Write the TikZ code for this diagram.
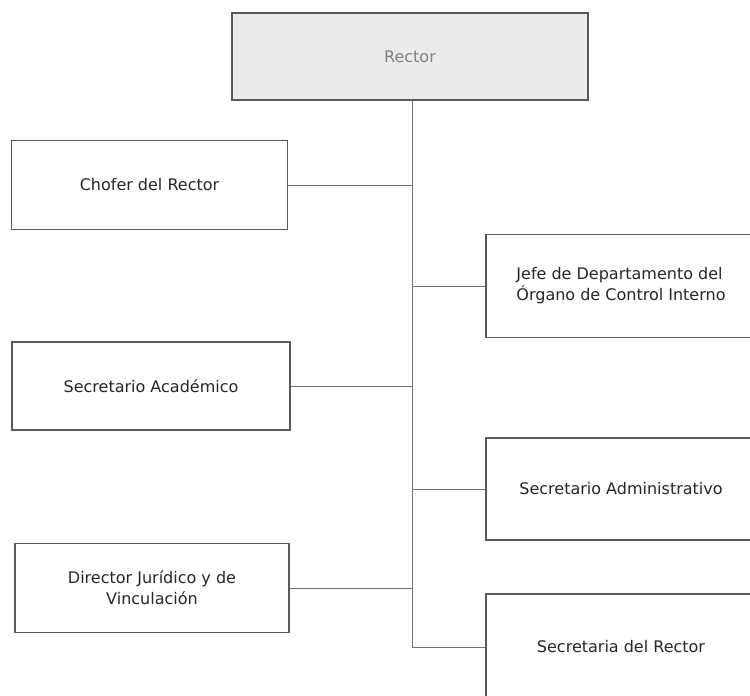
\documentclass[tikz,border=0pt]{standalone}
\usepackage{fontspec}
\setmainfont{DejaVu Sans}
\usetikzlibrary{positioning}

\begin{document}
\begin{tikzpicture}[x=1bp,y=-1bp]

\tikzstyle{puesto}=[rectangle,draw=black!65,line width=1.4bp,minimum width=276bp,minimum height=89bp,align=center,font=\fontsize{16bp}{21bp}\selectfont,text=black!85]
\tikzstyle{linea}=[draw=black!55,line width=0.8bp]

\useasboundingbox (0,0) rectangle (750,696);

\node (rector) at (410,56.5) [puesto,fill=black!8,text=black!50,minimum width=356bp,minimum height=87bp] {Rector};

% columna izquierda
\node (chofer) at (149.5,185) [puesto] {Chofer del Rector};
\node (academico) at (151,386) [puesto,minimum width=278bp,minimum height=88bp] {Secretario Acad\'emico};
\node (juridico) at (152,588) [puesto,minimum width=274bp] {Director Jur\'idico y de\\Vinculaci\'on};

% columna derecha
\node (control) at (621,286) [puesto,minimum width=270bp,minimum height=103bp,align=left] {Jefe de Departamento del\\\'Organo de Control Interno};
\node (administrativo) at (621,489) [puesto,minimum width=270bp,minimum height=102bp] {Secretario Administrativo};
\node (secretaria) at (621,647) [puesto,minimum width=270bp,minimum height=106bp] {Secretaria del Rector};

\coordinate (eje) at (412,647);
\draw[linea] (rector.south -| eje) -- (eje);

\draw[linea] (chofer.east) -- (chofer.east -| eje);
\draw[linea] (academico.east) -- (academico.east -| eje);
\draw[linea] (juridico.east) -- (juridico.east -| eje);
\draw[linea] (eje |- control.west) -- (control.west);
\draw[linea] (eje |- administrativo.west) -- (administrativo.west);
\draw[linea] (eje) -- (secretaria.west);

\end{tikzpicture}
\end{document}
